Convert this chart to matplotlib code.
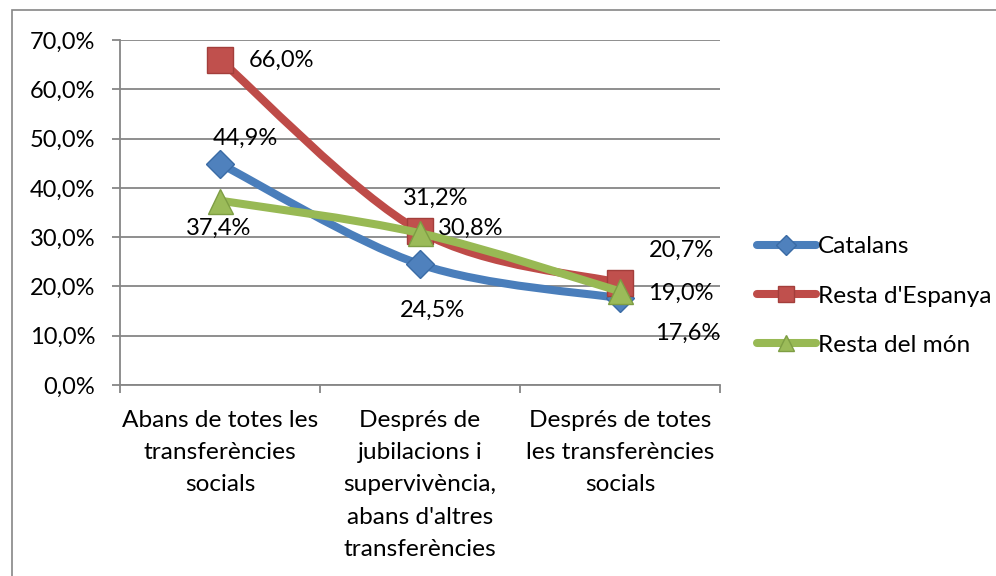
import matplotlib
matplotlib.use("Agg")
import matplotlib.pyplot as plt
from matplotlib.path import Path
from matplotlib.patches import PathPatch, Rectangle
from matplotlib.lines import Line2D
from matplotlib.ticker import FuncFormatter

plt.rcParams['font.family'] = ['Lato', 'DejaVu Sans']

categories = ["Abans de totes les\ntransferències\nsocials",
              "Després de\njubilacions i\nsupervivència,\nabans d'altres\ntransferències",
              "Després de totes\nles transferències\nsocials"]
series_names = ["Catalans", "Resta d'Espanya", "Resta del món"]
catalans = [44.9, 24.5, 17.6]
resta_espanya = [66.0, 31.2, 20.7]
resta_mon = [37.4, 30.8, 19.0]
series_values = [catalans, resta_espanya, resta_mon]
y_ticks = [0, 10, 20, 30, 40, 50, 60, 70]

line_colors = ["#4A7EBB", "#BE4B48", "#98B954"]
marker_colors = ["#4F81BD", "#C0504D", "#9BBB59"]
marker_edges = ["#3A6BA5", "#A33E3B", "#7E9E44"]
markers = ["D", "s", "^"]
marker_sizes = [14, 19, 18]
legend_msizes = [10, 12, 11]
# label offsets in pixels (dx, dy)
label_offsets = [
    [(25, 25), (12, -46), (68, -35)],
    [(61, -1), (16, 33), (61, 33)],
    [(-1, -28), (51, 5), (61, -2)],
]
NUM_FS = 17
TXT_FS = 17.6

fig = plt.figure(figsize=(9.96, 5.76), dpi=100)
fig.patches.append(Rectangle((12/996, -0.1), 1.2, 1 - 10/576 + 0.1, transform=fig.transFigure,
                             fill=False, edgecolor="#868686", linewidth=1.2))
ax = fig.add_axes([120/996, 1 - 385/576, 600/996, 345/576])

def smooth_path(xs, ys):
    pts = list(zip(xs, ys))
    n = len(pts)
    verts = [pts[0]]
    codes = [Path.MOVETO]
    for i in range(n - 1):
        p0 = pts[i - 1] if i > 0 else pts[i]
        p1 = pts[i]
        p2 = pts[i + 1]
        p3 = pts[i + 2] if i + 2 < n else pts[i + 1]
        c1 = (p1[0] + (p2[0] - p0[0]) / 6, p1[1] + (p2[1] - p0[1]) / 6)
        c2 = (p2[0] - (p3[0] - p1[0]) / 6, p2[1] - (p3[1] - p1[1]) / 6)
        verts += [c1, c2, p2]
        codes += [Path.CURVE4, Path.CURVE4, Path.CURVE4]
    return Path(verts, codes)

xs = list(range(len(categories)))
for k, vals in enumerate(series_values):
    patch = PathPatch(smooth_path(xs, vals), fill=False, edgecolor=line_colors[k],
                      linewidth=5.8, capstyle='round', joinstyle='round', zorder=3 + k)
    ax.add_patch(patch)
    ax.plot(xs, vals, linestyle='none', marker=markers[k], markersize=marker_sizes[k],
            markerfacecolor=marker_colors[k], markeredgecolor=marker_edges[k],
            markeredgewidth=1, zorder=3.5 + k)
    for i, v in enumerate(vals):
        dx, dy = label_offsets[k][i]
        ax.annotate(f"{v:.1f}%".replace('.', ','), (xs[i], v), xytext=(dx, dy),
                    textcoords='offset pixels', ha='center', va='center',
                    fontsize=NUM_FS, color='black', zorder=10)

ax.set_xlim(-0.5, len(categories) - 0.5)
ax.set_ylim(0, 70)
ax.set_yticks(y_ticks)
ax.yaxis.set_major_formatter(FuncFormatter(lambda v, p: f"{v:.1f}%".replace('.', ',')))
ax.grid(axis='y', color='#868686', linewidth=1.3)
ax.set_axisbelow(True)
ax.set_xticks(xs)
ax.set_xticklabels(categories, linespacing=1.66)
ax.set_xticks([x - 0.5 for x in range(len(categories) + 1)], minor=True)
ax.tick_params(axis='x', which='major', length=0, pad=18, labelsize=TXT_FS)
ax.tick_params(axis='x', which='minor', length=8 * 0.72, width=1.3, color='#868686', direction='out')
ax.tick_params(axis='y', length=8 * 0.72, width=1.3, color='#868686', pad=12, labelsize=NUM_FS)
for s in ['top', 'right']:
    ax.spines[s].set_visible(False)
for s in ['left', 'bottom']:
    ax.spines[s].set_color('#868686')
    ax.spines[s].set_linewidth(1.3)

handles = [Line2D([], [], color=line_colors[k], linewidth=5.8, solid_capstyle='round',
                  marker=markers[k], markersize=legend_msizes[k],
                  markerfacecolor=marker_colors[k], markeredgecolor=marker_edges[k])
           for k in range(3)]
fig.legend(handles, series_names, loc='center left', bbox_to_anchor=(757/996, 1 - 296/576),
           frameon=False, fontsize=TXT_FS, handlelength=2.4, handletextpad=0.1,
           labelspacing=1.15, borderpad=0, borderaxespad=0)

fig.savefig("out.png", dpi=100)
